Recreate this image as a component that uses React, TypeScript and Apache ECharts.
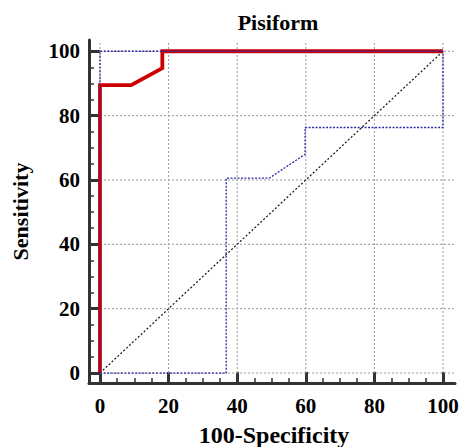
import React, { useEffect, useRef } from "react";
import * as echarts from "echarts";

const majorTicks = [0, 20, 40, 60, 80, 100];
const minorTicks = [5, 10, 15, 25, 30, 35, 45, 50, 55, 65, 70, 75, 85, 90, 95];

const rocX = [0, 0, 9.09, 18.18, 18.18, 100];
const rocY = [0, 89.47, 89.47, 94.74, 100, 100];

const upperX = [0, 0, 100];
const upperY = [0, 100, 100];

const lowerX = [0, 36.8, 36.8, 49.4, 59.8, 59.8, 100, 100];
const lowerY = [0, 0, 60.6, 60.6, 68.0, 76.3, 76.3, 100];

const diagX = [0, 100];
const diagY = [0, 100];

const X_MIN = -3.2, X_MAX = 103.5;
const Y_MIN = -3.1, Y_MAX = 103.5;

const FONT = "'Liberation Serif', 'Times New Roman', serif";

function pairs(xs: number[], ys: number[]) {
  return xs.map((x, i) => [x, ys[i]]);
}

export default function App() {
  const ref = useRef<HTMLDivElement>(null);
  useEffect(() => {
    if (!ref.current) return;
    const chart = echarts.init(ref.current, undefined, { renderer: "svg" });
    const gridStyle = { color: "#999", width: 1, type: [2, 2] as any };
    const gridSeries: any[] = [];
    majorTicks.forEach((t) => {
      gridSeries.push({
        type: "line", silent: true, symbol: "none", z: 1,
        data: [[0, t], [X_MAX, t]], lineStyle: gridStyle,
      });
      gridSeries.push({
        type: "line", silent: true, symbol: "none", z: 1,
        data: [[t, 0], [t, Y_MAX - 0.5]], lineStyle: gridStyle,
      });
    });
    const axisCommon = {
      type: "value",
      splitLine: { show: false },
    };
    chart.setOption({
      animation: false,
      backgroundColor: "#fff",
      title: {
        text: "Pisiform",
        left: 273, top: 6, textAlign: "center",
        textStyle: { fontFamily: FONT, fontWeight: "bold", fontSize: 22, color: "#000" },
      },
      grid: { left: 89, right: 5, top: 40, bottom: 64, containLabel: false, outerBoundsMode: "none" },
      xAxis: [
        {
          ...axisCommon, min: X_MIN, max: X_MAX, position: "bottom",
          axisLine: { show: true, onZero: false, lineStyle: { color: "#333", width: 3 } },
          axisTick: { show: true, inside: true, length: 11, customValues: majorTicks, lineStyle: { color: "#333", width: 3 } },
          axisLabel: { customValues: majorTicks, margin: 12, fontFamily: FONT, fontWeight: "bold", fontSize: 21, color: "#000" },
          name: "100-Specificity", nameLocation: "middle", nameGap: 40,
          nameTextStyle: { fontFamily: FONT, fontWeight: "bold", fontSize: 24, color: "#000", padding: [0, 0, 0, 4] },
        },
        {
          ...axisCommon, min: X_MIN, max: X_MAX, position: "bottom", offset: 0,
          axisLine: { show: false, onZero: false },
          axisTick: { show: true, inside: true, length: 5, customValues: minorTicks, lineStyle: { color: "#333", width: 1.5 } },
          axisLabel: { show: false },
        },
      ],
      yAxis: [
        {
          ...axisCommon, min: Y_MIN, max: Y_MAX, position: "left",
          axisLine: { show: true, onZero: false, lineStyle: { color: "#333", width: 3 } },
          axisTick: { show: true, inside: true, length: 11, customValues: majorTicks, lineStyle: { color: "#333", width: 3 } },
          axisLabel: { customValues: majorTicks, margin: 9, fontFamily: FONT, fontWeight: "bold", fontSize: 21, color: "#000" },
          name: "Sensitivity", nameLocation: "middle", nameGap: 58,
          nameTextStyle: { fontFamily: FONT, fontWeight: "bold", fontSize: 22, color: "#000" },
        },
        {
          ...axisCommon, min: Y_MIN, max: Y_MAX, position: "left", offset: 0,
          axisLine: { show: false, onZero: false },
          axisTick: { show: true, inside: true, length: 5, customValues: minorTicks, lineStyle: { color: "#333", width: 1.5 } },
          axisLabel: { show: false },
        },
      ],
      series: [
        ...gridSeries,
        {
          type: "line", symbol: "none", z: 3, data: pairs(diagX, diagY),
          lineStyle: { color: "#111", width: 1.2, type: [2, 2] },
        },
        {
          type: "line", symbol: "none", z: 4, data: pairs(rocX, rocY),
          lineStyle: { color: "#cc0000", width: 3.8, join: "miter" },
        },
        {
          type: "line", symbol: "none", z: 5, data: pairs(upperX, upperY),
          lineStyle: { color: "#2a2aa8", width: 1.3, type: [2, 1.5] },
        },
        {
          type: "line", symbol: "none", z: 5, data: pairs(lowerX, lowerY),
          lineStyle: { color: "#2a2aa8", width: 1.3, type: [2, 1.5] },
        },
      ],
    });
    return () => chart.dispose();
  }, []);
  return (
    <div
      ref={ref}
      style={{ position: "fixed", left: 0, top: 0, width: 460, height: 447 }}
    />
  );
}
